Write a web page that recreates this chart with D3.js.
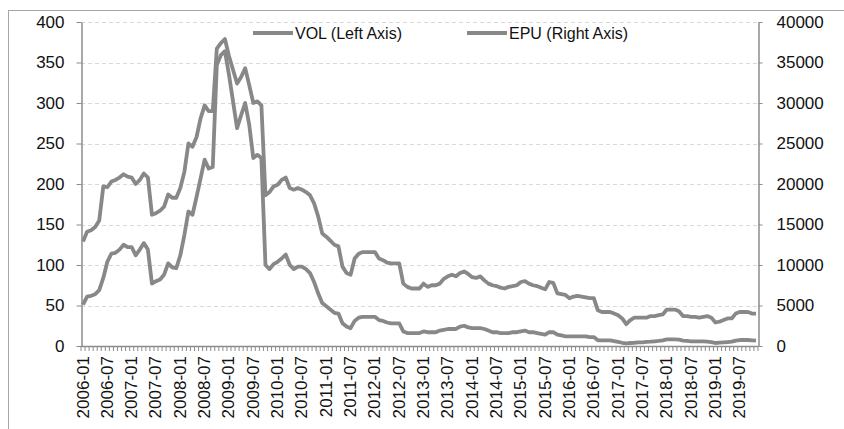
<!DOCTYPE html>
<html><head><meta charset="utf-8">
<script src="https://cdn.jsdelivr.net/npm/d3@7"></script>
<style>html,body{margin:0;padding:0;background:#fff;} svg{display:block;}</style>
</head><body><svg id="c" width="844" height="429"></svg>
<script>
// Monthly categories 2006-01 .. 2019-11
const months = d3.utcMonth.range(new Date(Date.UTC(2006,0,1)), new Date(Date.UTC(2019,11,1))).map(d3.utcFormat("%Y-%m"));
const tickLabels = ["2006-01","2006-07","2007-01","2007-07","2008-01","2008-07","2009-01","2009-07","2010-01","2010-07","2011-01","2011-07","2012-01","2012-07","2013-01","2013-07","2014-01","2014-07","2015-01","2015-07","2016-01","2016-07","2017-01","2017-07","2018-01","2018-07","2019-01","2019-07"];
const leftTicks = [0,50,100,150,200,250,300,350,400];
const rightTicks = [0,5000,10000,15000,20000,25000,30000,35000,40000];

// VOL (Left Axis)
const vol = [129,141,143,147,155,197,196,203,205,208,212,209,208,200,205,213,208,162,164,167,172,187,183,183,195,215,250,246,
258,281,297,290,290,367,374,379,358,341,324,332,343,322,300,302,297,
186,190,197,199,205,208,195,193,195,193,190,
186,176,160,139,135,130,125,123,98,90,88,108,114,116,116,116,116,108,106,103,102,102,102,77,73,71,71,71,77,73,75,75,77,83,86,88,
86,90,92,89,85,84,86,81,77,75,74,72,71,73,74,75,79,80,77,75,74,72,70,79,78,65,64,63,59,61,62,61,60,59,59,44,
42,42,42,40,38,34,27,32,35,35,35,35,37,37,38,39,45,45,45,43,37,37,36,36,35,36,37,35,29,30,32,34,34,40,42,42,42,40,40];

// EPU (Right Axis)
const epu = [5100,6100,6200,6400,6900,8400,10400,11400,11500,11900,12500,12200,12200,11200,11900,12700,11900,7700,8000,8200,8800,10200,9700,9600,11200,13700,16600,16200,
18400,20700,23000,21900,22100,34700,35900,36400,33500,30200,26900,28500,30000,27300,23200,23600,23200,
10000,9500,10100,10400,10800,11300,10000,9500,9800,9800,9500,
9000,7900,6500,5300,4900,4500,4100,4000,2800,2400,2200,3100,3500,3600,3600,3600,3600,3200,3100,2900,2800,2800,2800,1800,1600,1600,1600,1600,1800,1700,1700,1700,1900,2000,2100,2100,
2100,2400,2500,2300,2200,2200,2200,2100,1900,1700,1700,1600,1600,1600,1700,1700,1800,1900,1700,1700,1600,1500,1400,1700,1700,1400,1300,1200,1200,1200,1200,1200,1200,1100,1100,700,
700,700,700,600,500,400,330,370,400,450,450,500,530,580,620,700,820,820,820,780,660,620,580,580,580,580,530,490,370,410,450,490,530,660,740,740,740,700,660];

const svg = d3.select("#c");
const lineColor = "#888888", axisColor = "#8c8c8c", font = "'Liberation Sans', Arial, sans-serif";

const x = d3.scaleBand().domain(months).range([81, 758]).padding(0);
const bw = x.bandwidth();
const cx = m => x(m) + bw / 2;
const yL = d3.scaleLinear().domain([0, 400]).range([346, 22]);
const yR = d3.scaleLinear().domain([0, 40000]).range([346, 22]);

// frame
svg.append("line").attr("x1", 8.5).attr("x2", 8.5).attr("y1", 10.5).attr("y2", 429).attr("stroke", "#a6a6a6").attr("stroke-width", 1);
svg.append("line").attr("x1", 8).attr("x2", 844).attr("y1", 10.5).attr("y2", 10.5).attr("stroke", "#a6a6a6").attr("stroke-width", 1);

// gridlines
svg.append("g").selectAll("line").data(leftTicks.filter(d => d > 0)).join("line")
  .attr("x1", 81).attr("x2", 758)
  .attr("y1", d => Math.round(yL(d)) + 0.5).attr("y2", d => Math.round(yL(d)) + 0.5)
  .attr("stroke", "#d9d9d9").attr("stroke-dasharray", "4,3");

// left axis
const gL = svg.append("g").attr("transform", "translate(81.5,0)")
  .call(d3.axisLeft(yL).tickValues(leftTicks).tickSize(5).tickSizeOuter(0).tickPadding(12));
// right axis
const gR = svg.append("g").attr("transform", "translate(758.5,0)")
  .call(d3.axisRight(yR).tickValues(rightTicks).tickFormat(d3.format("d")).tickSize(4).tickSizeOuter(0).tickPadding(14));
[gL, gR].forEach(g => {
  g.select(".domain").attr("stroke", axisColor).attr("stroke-width", 1.5);
  g.selectAll(".tick line").attr("stroke", axisColor);
  g.selectAll("text").attr("font-family", font).attr("font-size", 17).attr("fill", "#111");
});

// bottom axis
const gB = svg.append("g");
gB.append("line").attr("x1", 81).attr("x2", 758).attr("y1", 346.5).attr("y2", 346.5).attr("stroke", axisColor).attr("stroke-width", 1.5);
gB.selectAll("line.t").data(months.concat(["__end"])).join("line").attr("class", "t")
  .attr("x1", d => d === "__end" ? 758 : x(d)).attr("x2", d => d === "__end" ? 758 : x(d))
  .attr("y1", 346).attr("y2", 351).attr("stroke", axisColor).attr("stroke-width", 1);
gB.selectAll("text").data(tickLabels).join("text")
  .attr("transform", d => `translate(${cx(d)},356) rotate(-90)`)
  .attr("text-anchor", "end").attr("dominant-baseline", "central")
  .attr("font-family", font).attr("font-size", 17).attr("fill", "#111")
  .text(d => d);

// lines
const lineL = d3.line().x((d, i) => cx(months[i])).y(d => yL(d));
const lineR = d3.line().x((d, i) => cx(months[i])).y(d => yR(d));
svg.append("path").datum(vol).attr("d", lineL).attr("fill", "none").attr("stroke", lineColor).attr("stroke-width", 3.8).attr("stroke-linejoin", "round");
svg.append("path").datum(epu).attr("d", lineR).attr("fill", "none").attr("stroke", lineColor).attr("stroke-width", 3.8).attr("stroke-linejoin", "round");

// legend
const legend = [{name: "VOL (Left Axis)", x: 253}, {name: "EPU (Right Axis)", x: 467}];
const lg = svg.append("g").selectAll("g").data(legend).join("g").attr("transform", d => `translate(${d.x},33)`);
lg.append("line").attr("x1", 0).attr("x2", 40).attr("y1", 0).attr("y2", 0).attr("stroke", lineColor).attr("stroke-width", 3.8);
lg.append("text").attr("x", 42).attr("y", 0).attr("dominant-baseline", "central")
  .attr("font-family", font).attr("font-size", 16).attr("fill", "#111").text(d => d.name);
</script>
</body></html>
